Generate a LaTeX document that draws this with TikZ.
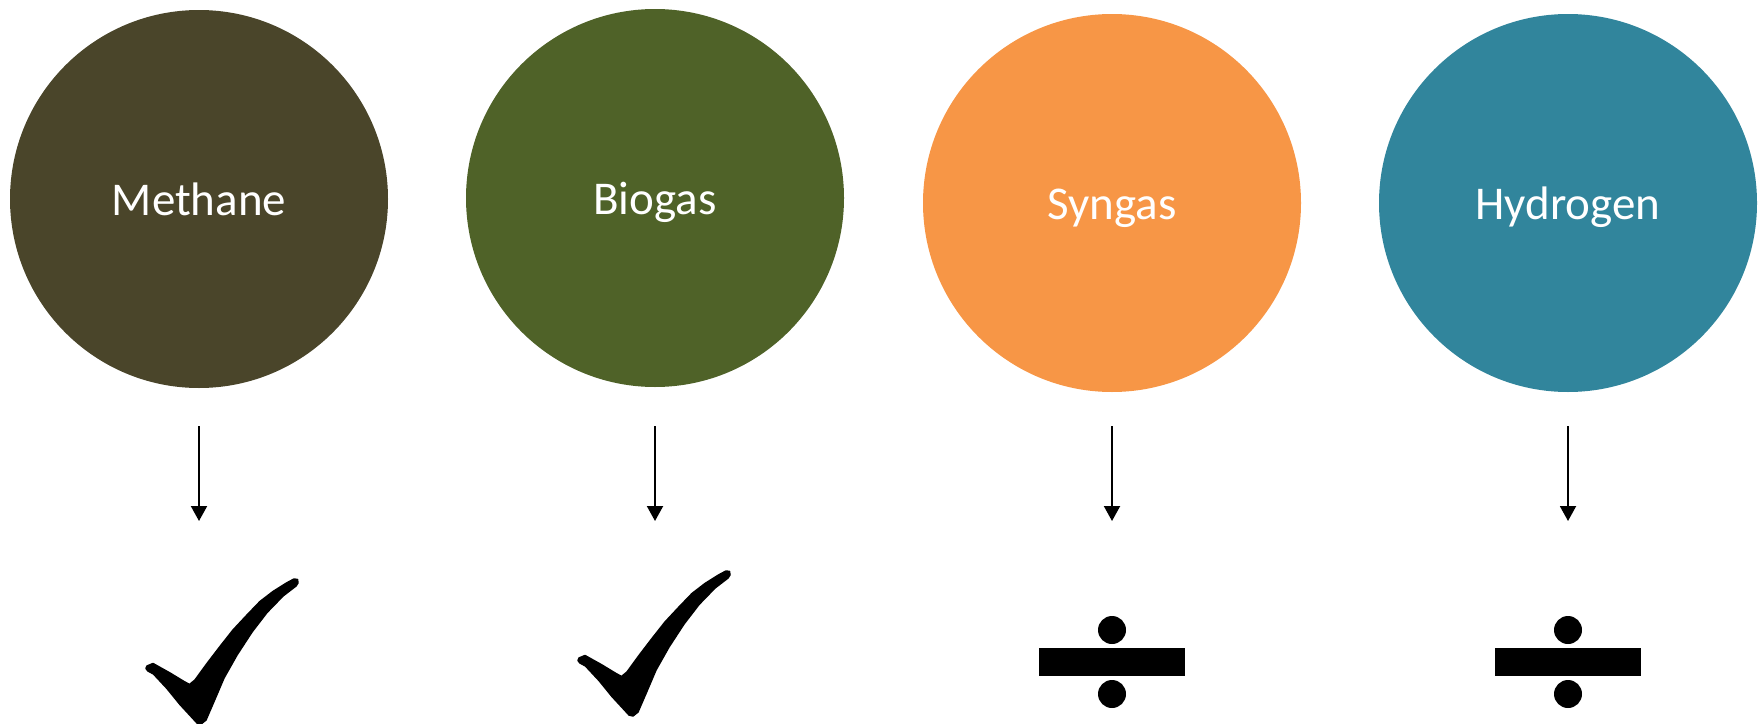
\documentclass[tikz,border=0pt]{standalone}
\usepackage{fontspec}
\setmainfont{Carlito}
\usetikzlibrary{arrows.meta}

\definecolor{methanecol}{HTML}{4A452A}
\definecolor{biogascol}{HTML}{4F6228}
\definecolor{syngascol}{HTML}{F79646}
\definecolor{hydrogencol}{HTML}{31859C}

\tikzset{
  gasnode/.style={circle, minimum size=378pt, inner sep=0pt, outer sep=0pt,
    text=white, font=\fontsize{47}{56}\selectfont, text height=33pt, text depth=0pt},
  outcome/.style={minimum width=160pt, minimum height=150pt, inner sep=0pt, outer sep=0pt},
  flowarrow/.style={line width=2pt, -{Triangle[width=16pt,length=15pt]}},
  % brush-stroke tick, origin at the middle of its outcome box
  tickshape/.pic={
    \filldraw[black, line width=1.5pt, line join=round]
      (-52,21) -- (-46,18.5) -- (-29,28) -- (-15,36.5) -- (-9.5,39.5)
      -- (-4,35) -- (8,18.5) -- (21,1.5) -- (34,-15) -- (48,-30) -- (61,-43.5)
      -- (74,-53.5) -- (87.5,-62) -- (95,-66) -- (98.5,-65.5) -- (99,-62) -- (97,-59)
      -- (84,-49) -- (68,-32.5) -- (53,-13) -- (38,10) -- (25,33) -- (15,56.5)
      -- (7,75) -- (2,79) -- (-2,78) -- (-7,72.5) -- (-19,59.5) -- (-32,43.5)
      -- (-45.5,29) -- (-51,26) -- (-53,23.5) -- cycle;
  },
  % division sign
  divideshape/.pic={
    \fill[black] (-73,3) rectangle (73,31);
    \fill[black] (0,-15) circle (14pt);
    \fill[black] (0,49) circle (14pt);
  }
}

\begin{document}
\begin{tikzpicture}[x=1pt,y=-1pt]
\useasboundingbox (0,0) rectangle (1764,723);

% gas circles
\node[gasnode, fill=methanecol]  (methane)  at (199,199)  {Methane};
\node[gasnode, fill=biogascol]   (biogas)   at (655,198)  {Biogas};
\node[gasnode, fill=syngascol]   (syngas)   at (1112,203) {Syngas};
\node[gasnode, fill=hydrogencol] (hydrogen) at (1568,203) {Hydrogen};

% outcome boxes
\node[outcome] (r1) at (199,645)  {};
\node[outcome] (r2) at (655,645)  {};
\node[outcome] (r3) at (1112,645) {};
\node[outcome] (r4) at (1568,645) {};

% outcome symbols
\pic at (199,645) {tickshape};
\pic at (631,637) {tickshape};
\pic at (1112,645) {divideshape};
\pic at (1568,645) {divideshape};

% arrows
\draw[flowarrow, shorten <=38pt, shorten >=49pt] (methane.south)  -- (r1.north);
\draw[flowarrow, shorten <=39pt, shorten >=49pt] (biogas.south)   -- (r2.north);
\draw[flowarrow, shorten <=34pt, shorten >=49pt] (syngas.south)   -- (r3.north);
\draw[flowarrow, shorten <=34pt, shorten >=49pt] (hydrogen.south) -- (r4.north);
\end{tikzpicture}
\end{document}
